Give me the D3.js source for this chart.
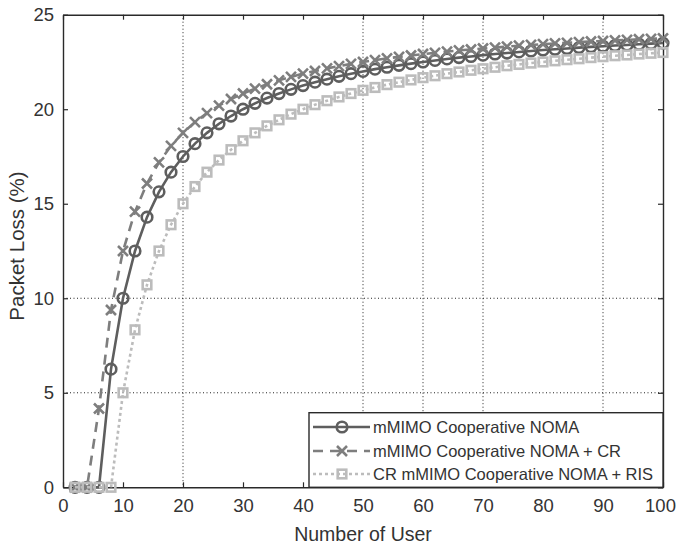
<!DOCTYPE html>
<html>
<head>
<meta charset="utf-8">
<script src="https://cdn.jsdelivr.net/npm/d3@7/dist/d3.min.js"></script>
<style>
  html, body { margin: 0; padding: 0; background: #fff; }
  svg { display: block; font-family: "Liberation Sans", Arial, sans-serif; }
</style>
</head>
<body>
<svg id="chart" width="677" height="544"></svg>
<script>
// Number of users (x values)
const users = [2,4,6,8,10,12,14,16,18,20,22,24,26,28,30,32,34,36,38,40,
  42,44,46,48,50,52,54,56,58,60,62,64,66,68,70,72,74,76,78,80,
  82,84,86,88,90,92,94,96,98,100];

// Packet loss (%) per scheme
const cooperativeNoma = [0,0,0,6.25,10,12.5,14.29,15.63,16.67,17.5,18.18,18.75,19.23,19.64,20,20.31,20.59,20.83,21.05,21.25,
  21.43,21.59,21.74,21.88,22,22.12,22.22,22.32,22.41,22.5,22.58,22.66,22.73,22.79,22.86,22.92,22.97,23.03,23.08,23.13,
  23.17,23.21,23.26,23.3,23.33,23.37,23.4,23.44,23.47,23.5];
const cooperativeNomaCR = [0,0,4.17,9.38,12.5,14.58,16.07,17.19,18.06,18.75,19.32,19.79,20.19,20.54,20.83,21.09,21.32,21.53,21.71,21.88,
  22.02,22.16,22.28,22.4,22.5,22.6,22.69,22.77,22.84,22.92,22.98,23.05,23.11,23.16,23.21,23.26,23.31,23.36,23.4,23.44,
  23.48,23.51,23.55,23.58,23.61,23.64,23.67,23.7,23.72,23.75];
const crNomaRIS = [0,0,0,0,5,8.33,10.71,12.5,13.89,15,15.91,16.67,17.31,17.86,18.33,18.75,19.12,19.44,19.74,20,
  20.24,20.45,20.65,20.83,21,21.15,21.3,21.43,21.55,21.67,21.77,21.88,21.97,22.06,22.14,22.22,22.3,22.37,22.44,22.5,
  22.56,22.62,22.67,22.73,22.78,22.83,22.87,22.92,22.96,23];

const seriesNames = ["mMIMO Cooperative NOMA", "mMIMO Cooperative NOMA + CR", "CR mMIMO Cooperative NOMA + RIS"];
const xTicks = [0,10,20,30,40,50,60,70,80,90,100];
const yTicks = [0,5,10,15,20,25];
const gridX = [20,50,60,70,90];
const gridY = [5,10];

const svg = d3.select("#chart");
const plotLeft = 63, plotRight = 663, plotTop = 14.7, plotBottom = 487.3;
const x = d3.scaleLinear().domain([0, 100]).range([plotLeft, plotRight]);
const y = d3.scaleLinear().domain([0, 25]).range([plotBottom, plotTop]);

const styles = [
  { color: "#5e5e5e", dash: null, marker: "circle" },
  { color: "#7e7e7e", dash: "10,7", marker: "cross" },
  { color: "#bcbcbc", dash: "3,3", marker: "square" }
];
const allSeries = [cooperativeNoma, cooperativeNomaCR, crNomaRIS];

// grid
const grid = svg.append("g").attr("stroke", "#222").attr("stroke-width", 1).attr("stroke-dasharray", "1,2.5");
grid.selectAll("line.gx").data(gridX).join("line").attr("class", "gx")
  .attr("x1", d => x(d)).attr("x2", d => x(d)).attr("y1", plotTop).attr("y2", plotBottom);
grid.selectAll("line.gy").data(gridY).join("line").attr("class", "gy")
  .attr("x1", plotLeft).attr("x2", plotRight).attr("y1", d => y(d)).attr("y2", d => y(d));

// axes (inward ticks on all four sides)
function styleAxis(g) {
  g.select(".domain").attr("stroke", "#2a2a2a").attr("stroke-width", 1.4);
  g.selectAll(".tick line").attr("stroke", "#2a2a2a").attr("stroke-width", 1.2);
  g.selectAll(".tick text").attr("fill", "#333").attr("font-size", 18.5);
}
const xAxisG = svg.append("g").attr("transform", `translate(0,${plotBottom})`)
  .call(d3.axisBottom(x).tickValues(xTicks).tickSize(-5).tickSizeOuter(0).tickPadding(12))
  .call(styleAxis);
// keep the last label inside the canvas
xAxisG.selectAll(".tick text").filter(d => d === 100).attr("dx", -3);
svg.append("g").attr("transform", `translate(0,${plotTop})`)
  .call(d3.axisTop(x).tickValues(xTicks).tickSize(-5).tickSizeOuter(0).tickFormat(""))
  .call(styleAxis);
svg.append("g").attr("transform", `translate(${plotLeft},0)`)
  .call(d3.axisLeft(y).tickValues(yTicks).tickSize(-5).tickSizeOuter(0).tickPadding(9))
  .call(styleAxis);
svg.append("g").attr("transform", `translate(${plotRight},0)`)
  .call(d3.axisRight(y).tickValues(yTicks).tickSize(-5).tickSizeOuter(0).tickFormat(""))
  .call(styleAxis);

// axis titles
svg.append("text").attr("x", (plotLeft + plotRight) / 2).attr("y", 541)
  .attr("text-anchor", "middle").attr("font-size", 19.5).attr("fill", "#333").text("Number of User");
svg.append("text").attr("transform", "translate(24,246) rotate(-90)")
  .attr("text-anchor", "middle").attr("font-size", 20.5).attr("fill", "#333").text("Packet Loss (%)");

// marker drawing
function drawMarker(g, type, cx, cy, color) {
  if (type === "circle") {
    g.append("circle").attr("cx", cx).attr("cy", cy).attr("r", 5.3)
      .attr("fill", "none").attr("stroke", color).attr("stroke-width", 2.6);
  } else if (type === "cross") {
    const s = 5;
    g.append("path").attr("d", `M${cx - s},${cy - s}L${cx + s},${cy + s}M${cx - s},${cy + s}L${cx + s},${cy - s}`)
      .attr("stroke", color).attr("stroke-width", 2.6).attr("fill", "none");
  } else {
    const s = 4.3;
    g.append("rect").attr("x", cx - s).attr("y", cy - s).attr("width", 2 * s).attr("height", 2 * s)
      .attr("fill", "none").attr("stroke", color).attr("stroke-width", 2.6);
  }
}

const line = d3.line().x((d, i) => x(users[i])).y(d => y(d));
allSeries.forEach((vals, k) => {
  const st = styles[k];
  const g = svg.append("g");
  g.append("path").datum(vals).attr("d", line).attr("fill", "none")
    .attr("stroke", st.color).attr("stroke-width", 2.6)
    .attr("stroke-dasharray", st.dash);
  vals.forEach((v, i) => drawMarker(g, st.marker, x(users[i]), y(v), st.color));
});

// legend
const lg = svg.append("g");
const lx0 = 309, ly0 = 412.7, lw = plotRight - lx0, lh = plotBottom - ly0;
lg.append("rect").attr("x", lx0).attr("y", ly0).attr("width", lw).attr("height", lh)
  .attr("fill", "#fff").attr("stroke", "#2a2a2a").attr("stroke-width", 1.4);
const rows = [427, 451, 474];
seriesNames.forEach((name, k) => {
  const st = styles[k];
  const ry = rows[k];
  lg.append("line").attr("x1", 313).attr("x2", 370).attr("y1", ry).attr("y2", ry)
    .attr("stroke", st.color).attr("stroke-width", 2.6).attr("stroke-dasharray", st.dash);
  drawMarker(lg, st.marker, 342, ry, st.color);
  lg.append("text").attr("x", 373).attr("y", ry + 6).attr("font-size", 16.5)
    .attr("fill", "#333").text(name);
});
</script>
</body>
</html>
